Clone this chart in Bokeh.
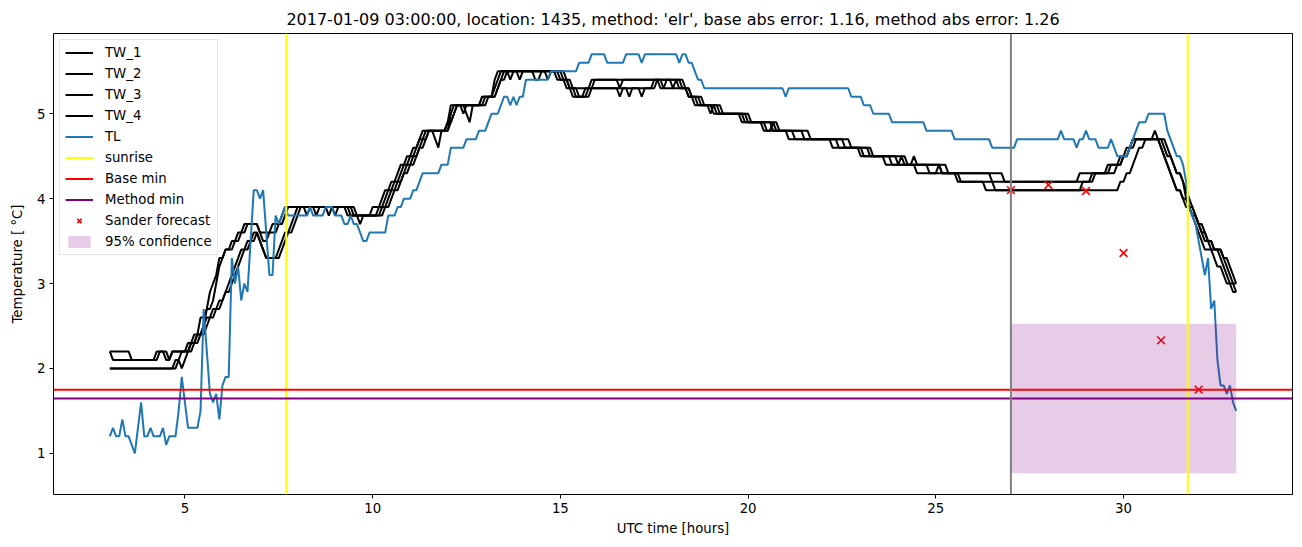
import numpy as np
from bokeh.plotting import figure
from bokeh.models import Span, Legend, LegendItem, Range1d, FixedTicker
from bokeh.embed import file_html
from bokeh.resources import INLINE

# ---------------- data ----------------
TITLE = "2017-01-09 03:00:00, location: 1435, method: 'elr', base abs error: 1.16, method abs error: 1.26"
start_hour = 3.0
step_minutes = 5
n_samples = 361

# series written as (sample index, value) change points, value holds until next change
tw1_changes = [(0,2.2),(7,2.1),(16,2.2),(19,2.1),(20,2.2),(26,2.3),(28,2.4),(30,2.5),(31,2.7),(33,2.8),(34,3.0),(35,3.2),(36,3.3),(37,3.4),(40,3.5),(42,3.6),(44,3.7),(48,3.6),(49,3.5),(51,3.6),(54,3.7),(56,3.8),(57,3.9),(79,3.8),(86,3.9),(88,4.0),(89,4.1),(91,4.2),(93,4.3),(94,4.4),(96,4.5),(98,4.6),(99,4.7),(101,4.8),(109,5.0),(110,5.1),(119,5.2),(123,5.3),(124,5.4),(125,5.5),(146,5.4),(148,5.3),(150,5.2),(153,5.3),(155,5.4),(183,5.3),(185,5.2),(188,5.1),(193,5.0),(202,4.9),(209,4.8),(217,4.7),(231,4.6),(240,4.5),(248,4.4),(258,4.3),(271,4.2),(280,4.1),(323,4.2),(325,4.3),(327,4.4),(328,4.5),(329,4.6),(331,4.7),(334,4.8),(335,4.7),(336,4.6),(337,4.5),(338,4.4),(339,4.3),(340,4.2),(341,4.1),(343,4.0),(344,3.9),(346,3.8),(347,3.7),(348,3.6),(349,3.5),(350,3.4),(353,3.3),(354,3.2),(356,3.1),(357,3.0),(359,2.9)]
tw2_changes = [(0,2.2),(1,2.1),(15,2.2),(18,2.1),(20,2.2),(25,2.3),(27,2.4),(29,2.6),(31,2.7),(32,2.9),(33,3.0),(34,3.1),(35,3.3),(37,3.4),(39,3.5),(41,3.6),(43,3.7),(48,3.6),(52,3.7),(55,3.8),(56,3.9),(63,3.8),(64,3.9),(76,3.8),(80,3.7),(81,3.8),(84,3.9),(87,4.0),(88,4.1),(90,4.2),(92,4.3),(93,4.4),(95,4.5),(97,4.6),(99,4.7),(100,4.8),(104,4.7),(105,4.6),(106,4.8),(108,4.9),(109,5.1),(114,5.0),(115,4.9),(116,5.1),(119,5.2),(123,5.4),(124,5.5),(128,5.4),(129,5.5),(143,5.4),(147,5.3),(154,5.4),(163,5.3),(164,5.4),(184,5.3),(186,5.2),(190,5.1),(195,5.0),(203,4.9),(210,4.8),(212,4.9),(213,4.8),(219,4.7),(233,4.6),(241,4.5),(250,4.4),(253,4.5),(254,4.4),(262,4.3),(265,4.4),(266,4.3),(272,4.2),(283,4.1),(311,4.2),(314,4.3),(322,4.4),(324,4.5),(326,4.6),(327,4.7),(336,4.6),(337,4.5),(338,4.4),(339,4.3),(340,4.2),(341,4.1),(343,4.0),(345,3.9),(346,3.8),(348,3.7),(349,3.6),(350,3.5),(352,3.4),(355,3.3),(356,3.2),(357,3.1),(358,3.0),(360,2.9)]
tw3_changes = [(0,2.0),(21,2.1),(23,2.2),(26,2.3),(28,2.4),(30,2.5),(31,2.6),(33,2.7),(35,2.8),(37,2.9),(38,3.0),(39,3.1),(40,3.2),(41,3.3),(42,3.4),(44,3.5),(46,3.6),(48,3.5),(49,3.4),(50,3.3),(54,3.4),(55,3.5),(56,3.6),(58,3.7),(59,3.8),(60,3.9),(66,3.8),(67,3.9),(72,3.8),(73,3.9),(78,3.8),(87,3.9),(89,4.0),(90,4.1),(92,4.2),(94,4.3),(95,4.4),(97,4.5),(99,4.6),(100,4.7),(102,4.8),(108,4.9),(110,5.0),(111,5.1),(120,5.2),(124,5.3),(125,5.4),(126,5.5),(131,5.4),(132,5.5),(145,5.4),(146,5.3),(148,5.2),(152,5.3),(163,5.2),(164,5.3),(170,5.2),(171,5.3),(174,5.4),(176,5.3),(178,5.4),(180,5.3),(185,5.2),(187,5.1),(192,5.0),(193,5.1),(196,5.0),(205,4.9),(214,4.8),(224,4.7),(237,4.6),(244,4.5),(255,4.4),(268,4.3),(286,4.2),(310,4.3),(319,4.4),(323,4.5),(325,4.6),(327,4.7),(337,4.6),(338,4.5),(340,4.4),(341,4.3),(343,4.2),(344,4.0),(345,3.9),(347,3.8),(348,3.7),(349,3.6),(351,3.5),(353,3.4),(356,3.3),(357,3.2),(358,3.1),(359,3.0)]
tw4_changes = [(0,2.0),(22,2.1),(23,2.0),(24,2.1),(25,2.2),(27,2.3),(29,2.4),(31,2.5),(32,2.6),(34,2.7),(36,2.8),(37,2.9),(39,3.0),(40,3.1),(41,3.2),(42,3.3),(43,3.4),(45,3.5),(47,3.6),(48,3.5),(49,3.4),(50,3.3),(55,3.4),(56,3.5),(57,3.6),(59,3.7),(60,3.8),(61,3.9),(70,3.8),(71,3.9),(77,3.8),(88,3.9),(90,4.0),(91,4.1),(93,4.2),(94,4.3),(96,4.4),(98,4.5),(99,4.6),(101,4.7),(102,4.8),(109,4.9),(110,5.0),(111,5.1),(113,5.0),(114,5.1),(121,5.2),(124,5.3),(125,5.4),(127,5.5),(136,5.4),(138,5.5),(140,5.4),(141,5.5),(144,5.4),(147,5.3),(149,5.2),(154,5.3),(166,5.2),(167,5.3),(175,5.4),(177,5.3),(181,5.4),(182,5.3),(186,5.2),(189,5.1),(194,5.0),(204,4.9),(212,4.8),(222,4.7),(235,4.6),(243,4.5),(252,4.4),(257,4.5),(258,4.4),(266,4.3),(282,4.2),(315,4.3),(320,4.4),(324,4.5),(326,4.6),(328,4.7),(338,4.6),(339,4.5),(340,4.4),(341,4.3),(343,4.2),(344,4.1),(345,4.0),(346,3.9),(347,3.8),(348,3.7),(350,3.6),(351,3.5),(353,3.4),(356,3.3),(358,3.2),(359,3.1),(360,3.0)]
tl_changes = [(0,1.2),(1,1.3),(2,1.2),(4,1.4),(5,1.2),(7,1.1),(8,1.0),(9,1.3),(10,1.6),(11,1.2),(13,1.3),(14,1.2),(17,1.3),(18,1.1),(19,1.2),(22,1.5),(23,1.9),(24,1.6),(25,1.3),(29,1.5),(30,2.7),(31,2.2),(32,1.7),(33,1.6),(34,1.7),(35,1.4),(36,1.8),(37,1.9),(39,3.3),(40,3.0),(41,3.2),(42,2.8),(43,3.0),(44,2.9),(45,3.5),(46,4.1),(48,4.0),(49,4.1),(50,3.6),(51,3.1),(53,3.8),(54,3.7),(55,3.8),(56,3.9),(57,3.8),(64,3.9),(65,3.8),(69,3.9),(72,3.8),(75,3.7),(77,3.8),(78,3.7),(80,3.6),(81,3.5),(83,3.6),(89,3.8),(92,3.9),(94,4.0),(97,4.1),(99,4.2),(100,4.3),(106,4.4),(109,4.6),(114,4.7),(118,4.8),(121,4.9),(122,5.0),(125,5.1),(126,5.2),(128,5.1),(129,5.2),(130,5.1),(131,5.2),(133,5.4),(141,5.5),(150,5.6),(154,5.7),(159,5.6),(165,5.7),(170,5.6),(171,5.7),(182,5.6),(183,5.7),(185,5.6),(187,5.5),(188,5.4),(190,5.3),(216,5.2),(217,5.3),(237,5.2),(241,5.1),(244,5.0),(250,4.9),(261,4.8),(270,4.7),(282,4.6),(290,4.7),(304,4.8),(305,4.7),(309,4.6),(310,4.7),(312,4.8),(313,4.7),(316,4.6),(320,4.7),(321,4.6),(322,4.5),(326,4.6),(327,4.7),(328,4.8),(329,4.9),(332,5.0),(338,4.8),(339,4.7),(340,4.6),(341,4.5),(343,4.4),(344,4.2),(345,3.9),(346,3.8),(347,3.7),(348,3.5),(349,3.3),(350,3.1),(351,3.3),(352,2.7),(353,2.8),(354,2.1),(355,1.8),(357,1.7),(358,1.8),(359,1.6),(360,1.5)]

sunrise_hours = [7.70, 31.71]
forecast_start = 27.0
base_min = 1.75
method_min = 1.645
sander_hours = [27, 28, 29, 30, 31, 32]
sander_temp = [4.10, 4.16, 4.09, 3.36, 2.33, 1.75]
conf_hours = [27, 33]
conf_low = [0.765, 0.765]
conf_high = [2.525, 2.525]

x_ticks = [5, 10, 15, 20, 25, 30]
y_ticks = [1, 2, 3, 4, 5]
x_lim = (1.5, 34.5)
y_lim = (0.515, 5.945)

FONT = "DejaVu Sans"
TL_BLUE = "#1f77b4"
LW = 2


def expand(changes):
    vals = np.empty(n_samples)
    for k, (s, v) in enumerate(changes):
        e = changes[k + 1][0] if k + 1 < len(changes) else n_samples
        vals[s:e] = v
    return vals


hours = start_hour + np.arange(n_samples) * step_minutes / 60.0

p = figure(width=1302, height=547, output_backend="svg", toolbar_location=None,
           x_range=Range1d(*x_lim), y_range=Range1d(*y_lim),
           min_border_left=53, min_border_right=10, min_border_top=33, min_border_bottom=53,
           title=TITLE)
p.background_fill_color = "white"
p.border_fill_color = "white"
p.outline_line_color = "black"
p.outline_line_width = 1
p.outline_line_alpha = 1
p.xgrid.visible = False
p.ygrid.visible = False

p.title.text_font = FONT
p.title.text_font_size = "16px"
p.title.text_font_style = "normal"
p.title.align = "center"
p.title.text_color = "black"

for ax in (p.xaxis[0], p.yaxis[0]):
    ax.axis_line_color = None
    ax.major_tick_in = 0
    ax.major_tick_out = 4
    ax.major_tick_line_color = "black"
    ax.major_tick_line_width = 1
    ax.minor_tick_line_color = None
    ax.major_label_text_font = FONT
    ax.major_label_text_font_size = "13.3px"
    ax.major_label_text_color = "black"
    ax.axis_label_text_font = FONT
    ax.axis_label_text_font_size = "13.3px"
    ax.axis_label_text_font_style = "normal"
    ax.axis_label_text_color = "black"
    ax.major_label_standoff = 4
p.xaxis.ticker = FixedTicker(ticks=x_ticks)
p.yaxis.ticker = FixedTicker(ticks=y_ticks)
p.xaxis.axis_label = "UTC time [hours]"
p.yaxis.axis_label = "Temperature [ °C]"
p.xaxis.axis_label_standoff = 5
p.yaxis.axis_label_standoff = 9

items = []
for name, ch in (("TW_1", tw1_changes), ("TW_2", tw2_changes), ("TW_3", tw3_changes), ("TW_4", tw4_changes)):
    r = p.line(hours, expand(ch), line_color="black", line_width=LW)
    items.append(LegendItem(label=name, renderers=[r]))
r_tl = p.line(hours, expand(tl_changes), line_color=TL_BLUE, line_width=LW)
items.append(LegendItem(label="TL", renderers=[r_tl]))

for s in sunrise_hours:
    p.add_layout(Span(location=s, dimension="height", line_color="yellow", line_width=LW))
p.add_layout(Span(location=base_min, dimension="width", line_color="red", line_width=LW))
p.add_layout(Span(location=method_min, dimension="width", line_color="purple", line_width=LW))
p.add_layout(Span(location=forecast_start, dimension="height", line_color="grey", line_width=LW))

# legend-only renderers (nothing visible is drawn by them; the Spans above draw the lines)
r_sun = p.line([np.nan], [np.nan], line_color="yellow", line_width=LW)
r_base = p.line([np.nan], [np.nan], line_color="red", line_width=LW)
r_meth = p.line([np.nan], [np.nan], line_color="purple", line_width=LW)
items.append(LegendItem(label="sunrise", renderers=[r_sun]))
items.append(LegendItem(label="Base min", renderers=[r_base]))
items.append(LegendItem(label="Method min", renderers=[r_meth]))

r_sander = p.scatter(sander_hours, sander_temp, marker="x", size=11, line_color="red", line_width=1.6)
items.append(LegendItem(label="Sander forecast", renderers=[r_sander]))
r_conf = p.varea(x=conf_hours, y1=conf_low, y2=conf_high, fill_color="purple", fill_alpha=0.2)
items.append(LegendItem(label="95% confidence", renderers=[r_conf]))

legend = Legend(items=items, location="top_left")
legend.label_text_font = FONT
legend.label_text_font_size = "13.3px"
legend.label_text_color = "black"
legend.border_line_color = "#cccccc"
legend.border_line_width = 1
legend.background_fill_color = "white"
legend.background_fill_alpha = 0.8
legend.padding = 5
legend.margin = 6
legend.spacing = 6
legend.glyph_width = 28
legend.glyph_height = 15
legend.label_height = 15
legend.label_standoff = 12
p.add_layout(legend)

open("out.html", "w").write(file_html(p, INLINE))
